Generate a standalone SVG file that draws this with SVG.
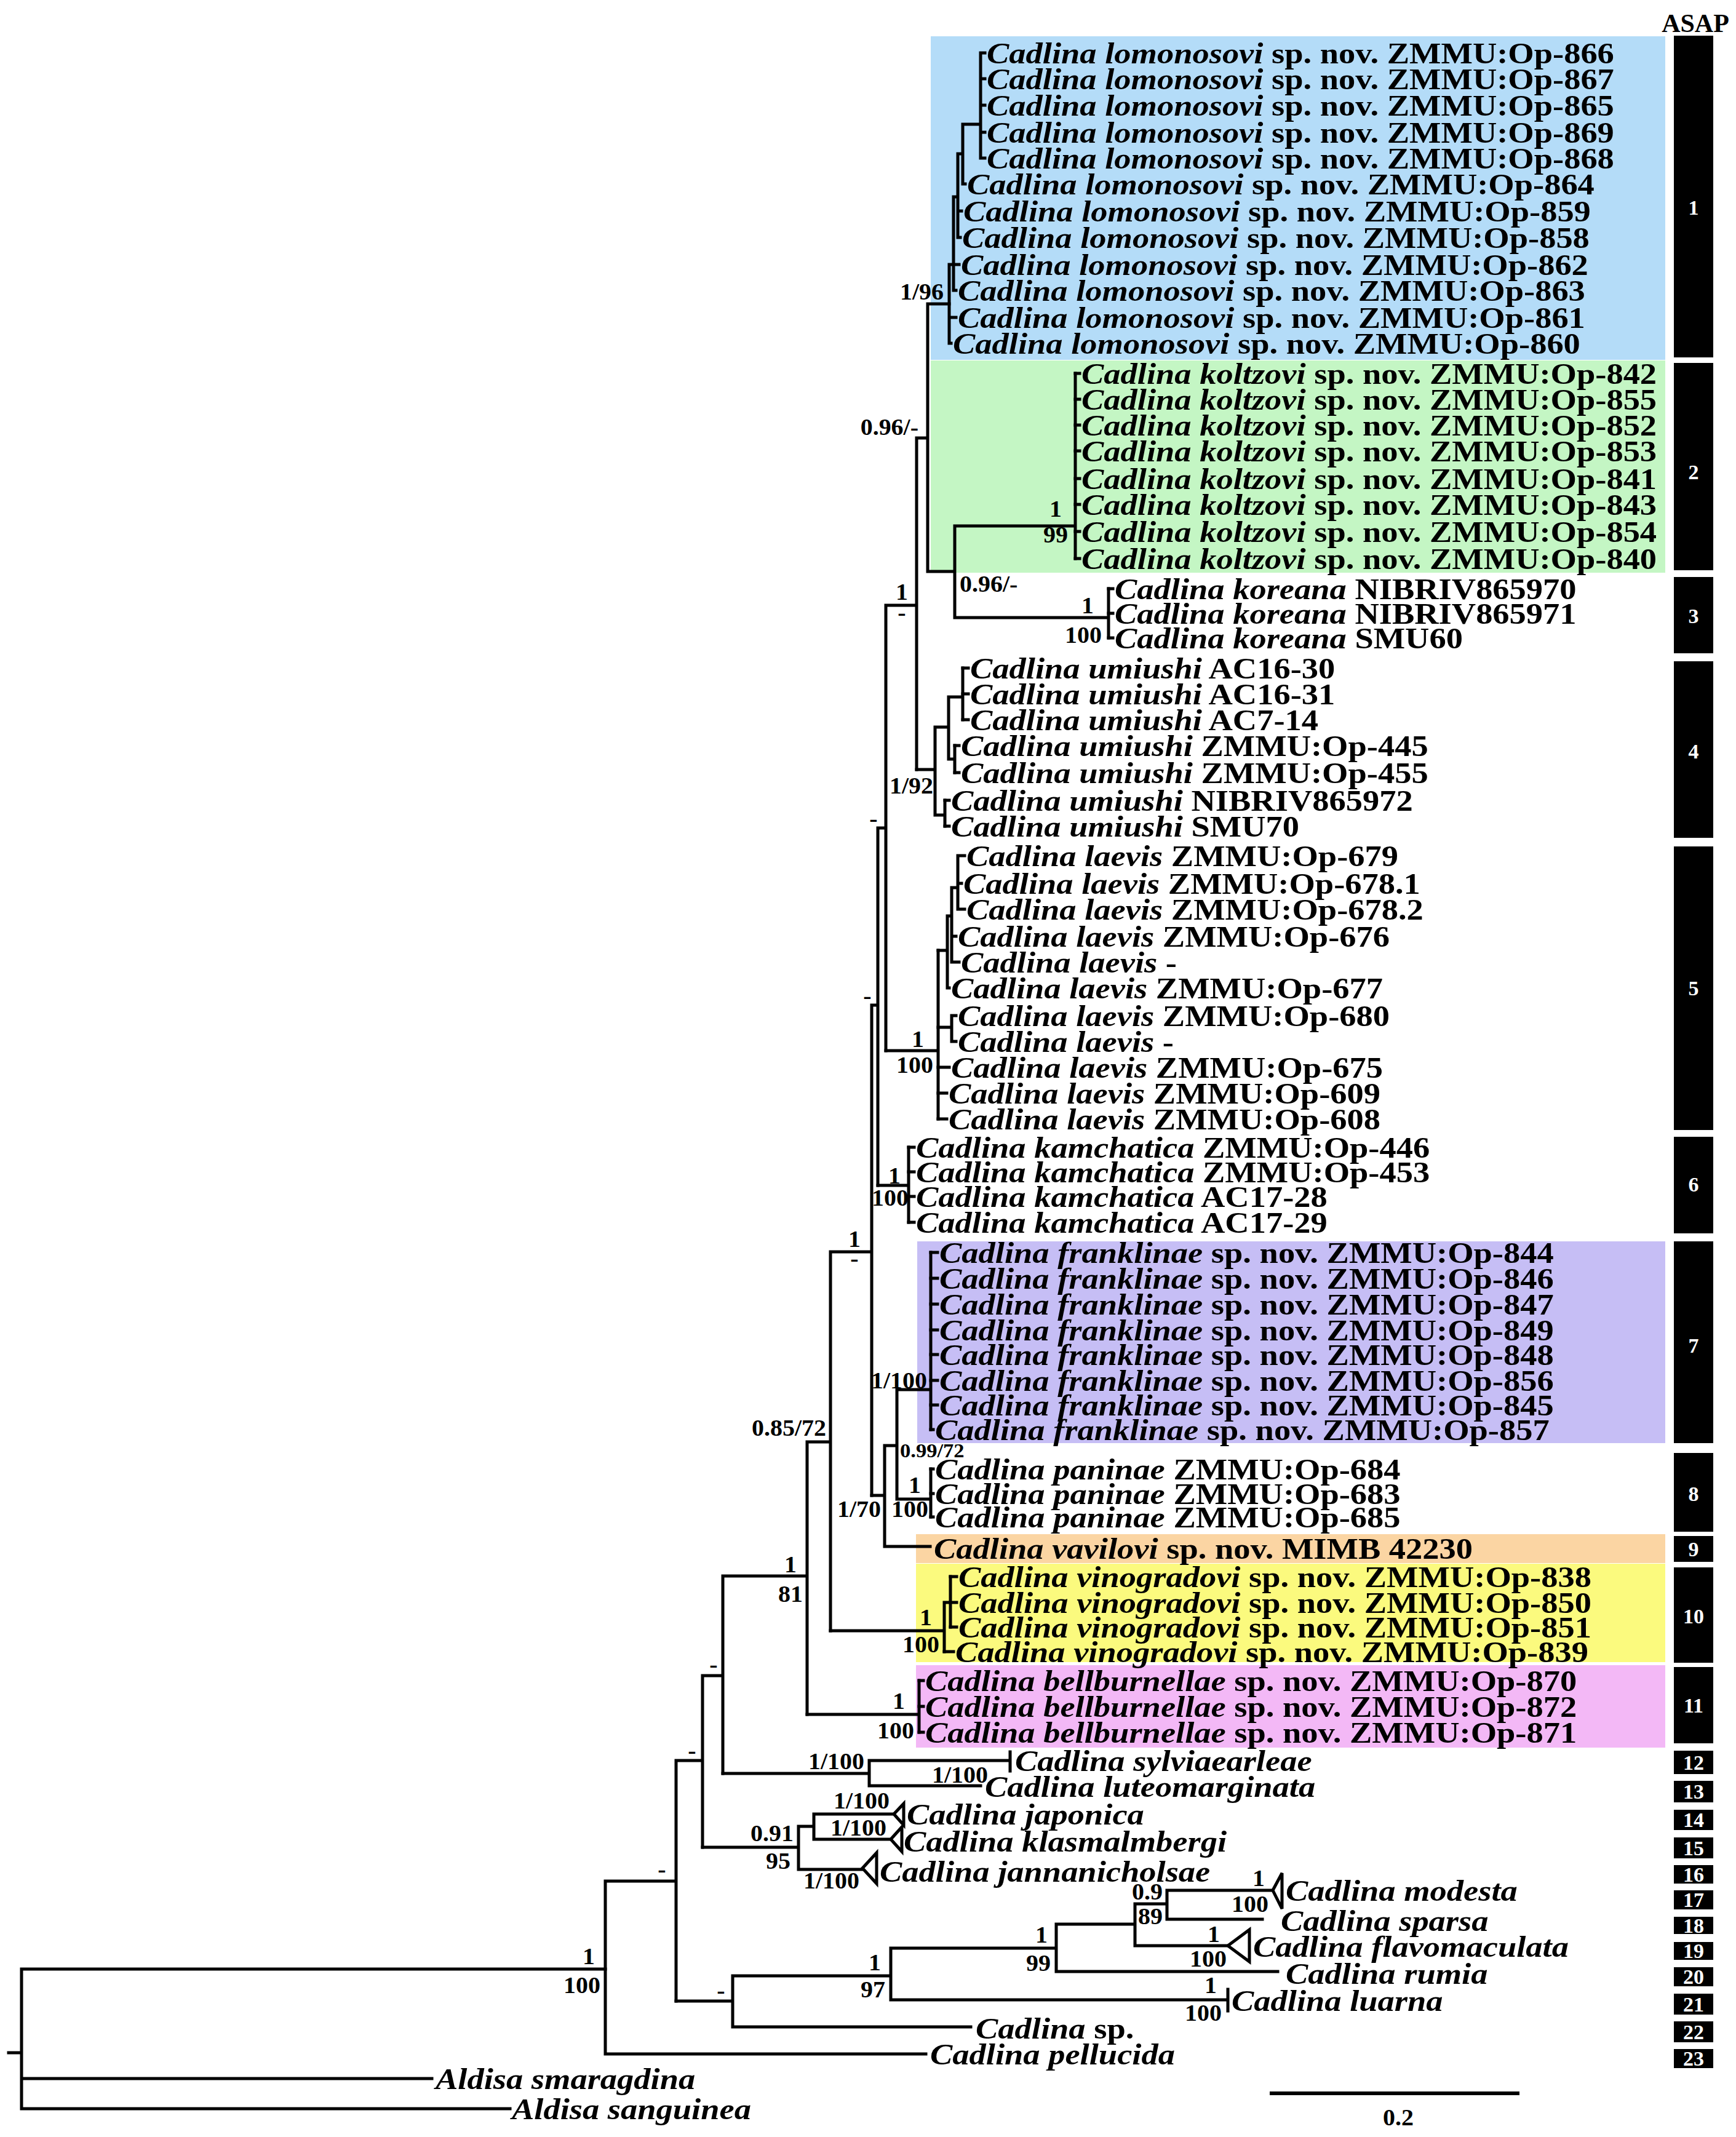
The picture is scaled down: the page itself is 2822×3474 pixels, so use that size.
<svg xmlns="http://www.w3.org/2000/svg" width="2822" height="3474" viewBox="0 0 2822 3474">
<style>
.t{font-family:"Liberation Serif","Times New Roman",serif;font-weight:bold;font-size:48px;fill:#000}
.s{font-family:"Liberation Serif","Times New Roman",serif;font-weight:bold;font-size:37px;fill:#000}
.i{font-style:italic}
.e{text-anchor:end}
.m{text-anchor:middle}
.a{font-family:"Liberation Serif","Times New Roman",serif;font-weight:bold;font-size:34px;fill:#fff;text-anchor:middle}
.br{fill:none;stroke:#000;stroke-width:5;stroke-linecap:square;stroke-linejoin:miter}
.bar{fill:#000}
</style>
<rect width="2822" height="3474" fill="#fff"/>
<g id="clade-highlights">
<rect x="1513" y="59" width="1194" height="526" fill="#b4dcf8"/>
<rect x="1513" y="586" width="1194" height="345" fill="#c4f6c4"/>
<rect x="1491" y="2018" width="1216" height="328" fill="#c6bef5"/>
<rect x="1489" y="2494" width="1218" height="47" fill="#fbd5a3"/>
<rect x="1489" y="2542" width="1218" height="160" fill="#fbfa7e"/>
<rect x="1489" y="2707" width="1218" height="134" fill="#f3b8f6"/>
</g>
<g id="asap">
<text class="t m" transform="translate(2756 52) scale(1.0 1)" style="font-size:42px">ASAP</text>
<rect class="bar" x="2721" y="58" width="64" height="523"/><text class="a" x="2753" y="349">1</text>
<rect class="bar" x="2721" y="590" width="64" height="337"/><text class="a" x="2753" y="779">2</text>
<rect class="bar" x="2721" y="938" width="64" height="124"/><text class="a" x="2753" y="1013">3</text>
<rect class="bar" x="2721" y="1075" width="64" height="287"/><text class="a" x="2753" y="1233">4</text>
<rect class="bar" x="2721" y="1376" width="64" height="461"/><text class="a" x="2753" y="1618">5</text>
<rect class="bar" x="2721" y="1848" width="64" height="157"/><text class="a" x="2753" y="1937">6</text>
<rect class="bar" x="2721" y="2018" width="64" height="328"/><text class="a" x="2753" y="2199">7</text>
<rect class="bar" x="2721" y="2362" width="64" height="128"/><text class="a" x="2753" y="2440">8</text>
<rect class="bar" x="2721" y="2497" width="64" height="42"/><text class="a" x="2753" y="2530">9</text>
<rect class="bar" x="2721" y="2548" width="64" height="155"/><text class="a" x="2753" y="2639">10</text>
<rect class="bar" x="2721" y="2710" width="64" height="124"/><text class="a" x="2753" y="2784">11</text>
<rect class="bar" x="2721" y="2846" width="64" height="38"/><text class="a" x="2753" y="2877">12</text>
<rect class="bar" x="2721" y="2895" width="64" height="35"/><text class="a" x="2753" y="2924">13</text>
<rect class="bar" x="2721" y="2942" width="64" height="33"/><text class="a" x="2753" y="2970">14</text>
<rect class="bar" x="2721" y="2987" width="64" height="34"/><text class="a" x="2753" y="3016">15</text>
<rect class="bar" x="2721" y="3032" width="64" height="30"/><text class="a" x="2753" y="3059">16</text>
<rect class="bar" x="2721" y="3073" width="64" height="31"/><text class="a" x="2753" y="3100">17</text>
<rect class="bar" x="2721" y="3116" width="64" height="28"/><text class="a" x="2753" y="3142">18</text>
<rect class="bar" x="2721" y="3157" width="64" height="29"/><text class="a" x="2753" y="3183">19</text>
<rect class="bar" x="2721" y="3198" width="64" height="31"/><text class="a" x="2753" y="3225">20</text>
<rect class="bar" x="2721" y="3241" width="64" height="34"/><text class="a" x="2753" y="3270">21</text>
<rect class="bar" x="2721" y="3286" width="64" height="34"/><text class="a" x="2753" y="3315">22</text>
<rect class="bar" x="2721" y="3331" width="64" height="31"/><text class="a" x="2753" y="3358">23</text>
</g>
<g id="connectors" class="br">
<path d="M14 3337H35M35 3201V3428M35 3201H984M35 3379H702M35 3428H829"/>
<path d="M984 3058V3339M984 3339H1505M984 3058H1099M1099 2862V3253M1099 2862H1142M1142 2724V3003M1142 2724H1175M1175 2562V2883M1175 2562H1312M1312 2344V2787M1312 2344H1350M1350 2035V2651M1350 2035H1417M1417 1634V2431M1417 1634H1427M1427 1346V1927M1427 1346H1440M1440 984V1708M1440 984H1490M1490 712V1251M1490 712H1508M1508 494V929M1508 494H1543M1508 929H1552M1552 855V1004M1552 855H1748M1748 607V908M1552 1004H1802M1802 957V1037"/>
<path d="M1490 1251H1520M1520 1182V1325M1520 1182H1542M1542 1133V1234M1542 1133H1565M1565 1086V1170M1542 1234H1552M1552 1212V1256M1520 1325H1536M1536 1301V1343"/>
<path d="M1440 1708H1525M1525 1545V1819M1427 1927H1477M1477 1865V1987M1417 2431H1438M1438 2350V2514M1438 2350H1458M1458 2259V2437M1458 2259H1513M1513 2036V2324M1458 2437H1513M1513 2388V2466M1438 2514H1512M1350 2651H1535M1535 2605V2685M1535 2605H1545M1545 2563V2645M1312 2787H1494M1494 2732V2816"/>
<path d="M1175 2883H1413M1413 2862V2903M1413 2862H1642M1642 2848V2879M1413 2903H1594M1142 3003H1298M1298 2969V3039M1298 2969H1323M1323 2949V2990M1323 2949H1453M1323 2990H1448M1298 3039H1402"/>
<path d="M1099 3253H1191M1191 3212V3295M1191 3212H1448M1448 3167V3251M1448 3167H1717M1717 3128V3205M1717 3128H1845M1845 3095V3163M1845 3095H1897M1897 3073V3120M1897 3073H2069M1897 3120H2052M1845 3163H1996M1717 3205H2077M1448 3251H1996M1996 3234V3269M1191 3295H1578"/>
<path d="M1453 2949L1469 2932V2967ZM1448 2990L1466 2970V3010ZM1402 3037L1425 3012V3062ZM2069 3073L2084 3045V3103ZM1996 3163L2031 3137V3189Z"/>
<path d="M1543 430V558M1543 558H1546M1543 516H1554M1543 430H1550M1550 320V472M1550 472H1554M1550 430H1559M1550 320H1557M1557 250V386M1557 386H1561M1557 343H1563M1557 250H1565M1565 202V299M1565 299H1569M1565 202H1594M1594 86V257M1594 86H1601M1594 128H1601M1594 171H1601M1594 215H1601M1594 257H1601"/>
<path d="M1748 607H1755M1748 649H1755M1748 691H1755M1748 733H1755M1748 778H1755M1748 820H1755M1748 864H1755M1748 908H1755M1802 957H1809M1802 997H1809M1802 1037H1809"/>
<path d="M1565 1086H1574M1565 1128H1574M1565 1170H1574M1552 1212H1559M1552 1256H1559M1536 1301H1543M1536 1343H1543"/>
<path d="M1525 1819H1539M1525 1777H1539M1525 1735H1543M1525 1670H1547M1547 1651V1693M1547 1651H1554M1547 1693H1554M1525 1545H1540M1540 1489V1606M1540 1606H1543M1540 1489H1547M1547 1443V1564M1547 1522H1554M1547 1564H1559M1547 1443H1557M1557 1391V1478M1557 1391H1568M1557 1436H1563M1557 1478H1568"/>
<path d="M1477 1865H1486M1477 1905H1486M1477 1945H1486M1477 1987H1486M1513 2036H1524M1513 2078H1524M1513 2120H1524M1513 2162H1524M1513 2202H1524M1513 2244H1524M1513 2284H1524M1513 2324H1517M1513 2388H1517M1513 2428H1517M1513 2466H1517M1545 2563H1555M1545 2605H1555M1545 2645H1555M1535 2685H1550M1494 2732H1501M1494 2774H1501M1494 2816H1501"/>
<path d="M2064 3403H2470" style="stroke-width:6;stroke-linecap:butt"/>
</g>
<g id="scale-label"><text class="s m" transform="translate(2273 3455) scale(1.08 1)">0.2</text></g>
<g id="tips">
<g id="tip-01"><text class="t" transform="translate(1604 103) scale(1.135 1)"><tspan class="i">Cadlina lomonosovi</tspan> sp. nov. ZMMU:Op-866</text></g>
<g id="tip-02"><text class="t" transform="translate(1604 145) scale(1.135 1)"><tspan class="i">Cadlina lomonosovi</tspan> sp. nov. ZMMU:Op-867</text></g>
<g id="tip-03"><text class="t" transform="translate(1604 188) scale(1.135 1)"><tspan class="i">Cadlina lomonosovi</tspan> sp. nov. ZMMU:Op-865</text></g>
<g id="tip-04"><text class="t" transform="translate(1604 232) scale(1.135 1)"><tspan class="i">Cadlina lomonosovi</tspan> sp. nov. ZMMU:Op-869</text></g>
<g id="tip-05"><text class="t" transform="translate(1604 274) scale(1.135 1)"><tspan class="i">Cadlina lomonosovi</tspan> sp. nov. ZMMU:Op-868</text></g>
<g id="tip-06"><text class="t" transform="translate(1572 316) scale(1.135 1)"><tspan class="i">Cadlina lomonosovi</tspan> sp. nov. ZMMU:Op-864</text></g>
<g id="tip-07"><text class="t" transform="translate(1566 360) scale(1.135 1)"><tspan class="i">Cadlina lomonosovi</tspan> sp. nov. ZMMU:Op-859</text></g>
<g id="tip-08"><text class="t" transform="translate(1564 403) scale(1.135 1)"><tspan class="i">Cadlina lomonosovi</tspan> sp. nov. ZMMU:Op-858</text></g>
<g id="tip-09"><text class="t" transform="translate(1562 447) scale(1.135 1)"><tspan class="i">Cadlina lomonosovi</tspan> sp. nov. ZMMU:Op-862</text></g>
<g id="tip-10"><text class="t" transform="translate(1557 489) scale(1.135 1)"><tspan class="i">Cadlina lomonosovi</tspan> sp. nov. ZMMU:Op-863</text></g>
<g id="tip-11"><text class="t" transform="translate(1557 533) scale(1.135 1)"><tspan class="i">Cadlina lomonosovi</tspan> sp. nov. ZMMU:Op-861</text></g>
<g id="tip-12"><text class="t" transform="translate(1549 575) scale(1.135 1)"><tspan class="i">Cadlina lomonosovi</tspan> sp. nov. ZMMU:Op-860</text></g>
<g id="tip-13"><text class="t" transform="translate(1758 624) scale(1.135 1)"><tspan class="i">Cadlina koltzovi</tspan> sp. nov. ZMMU:Op-842</text></g>
<g id="tip-14"><text class="t" transform="translate(1758 666) scale(1.135 1)"><tspan class="i">Cadlina koltzovi</tspan> sp. nov. ZMMU:Op-855</text></g>
<g id="tip-15"><text class="t" transform="translate(1758 708) scale(1.135 1)"><tspan class="i">Cadlina koltzovi</tspan> sp. nov. ZMMU:Op-852</text></g>
<g id="tip-16"><text class="t" transform="translate(1758 750) scale(1.135 1)"><tspan class="i">Cadlina koltzovi</tspan> sp. nov. ZMMU:Op-853</text></g>
<g id="tip-17"><text class="t" transform="translate(1758 795) scale(1.135 1)"><tspan class="i">Cadlina koltzovi</tspan> sp. nov. ZMMU:Op-841</text></g>
<g id="tip-18"><text class="t" transform="translate(1758 837) scale(1.135 1)"><tspan class="i">Cadlina koltzovi</tspan> sp. nov. ZMMU:Op-843</text></g>
<g id="tip-19"><text class="t" transform="translate(1758 881) scale(1.135 1)"><tspan class="i">Cadlina koltzovi</tspan> sp. nov. ZMMU:Op-854</text></g>
<g id="tip-20"><text class="t" transform="translate(1758 925) scale(1.135 1)"><tspan class="i">Cadlina koltzovi</tspan> sp. nov. ZMMU:Op-840</text></g>
<g id="tip-21"><text class="t" transform="translate(1812 974) scale(1.135 1)"><tspan class="i">Cadlina koreana</tspan> NIBRIV865970</text></g>
<g id="tip-22"><text class="t" transform="translate(1812 1014) scale(1.135 1)"><tspan class="i">Cadlina koreana</tspan> NIBRIV865971</text></g>
<g id="tip-23"><text class="t" transform="translate(1812 1054) scale(1.135 1)"><tspan class="i">Cadlina koreana</tspan> SMU60</text></g>
<g id="tip-24"><text class="t" transform="translate(1577 1103) scale(1.135 1)"><tspan class="i">Cadlina umiushi</tspan> AC16-30</text></g>
<g id="tip-25"><text class="t" transform="translate(1577 1145) scale(1.135 1)"><tspan class="i">Cadlina umiushi</tspan> AC16-31</text></g>
<g id="tip-26"><text class="t" transform="translate(1577 1187) scale(1.135 1)"><tspan class="i">Cadlina umiushi</tspan> AC7-14</text></g>
<g id="tip-27"><text class="t" transform="translate(1562 1229) scale(1.135 1)"><tspan class="i">Cadlina umiushi</tspan> ZMMU:Op-445</text></g>
<g id="tip-28"><text class="t" transform="translate(1562 1273) scale(1.135 1)"><tspan class="i">Cadlina umiushi</tspan> ZMMU:Op-455</text></g>
<g id="tip-29"><text class="t" transform="translate(1546 1318) scale(1.135 1)"><tspan class="i">Cadlina umiushi</tspan> NIBRIV865972</text></g>
<g id="tip-30"><text class="t" transform="translate(1546 1360) scale(1.135 1)"><tspan class="i">Cadlina umiushi</tspan> SMU70</text></g>
<g id="tip-31"><text class="t" transform="translate(1571 1408) scale(1.135 1)"><tspan class="i">Cadlina laevis</tspan> ZMMU:Op-679</text></g>
<g id="tip-32"><text class="t" transform="translate(1566 1453) scale(1.135 1)"><tspan class="i">Cadlina laevis</tspan> ZMMU:Op-678.1</text></g>
<g id="tip-33"><text class="t" transform="translate(1571 1495) scale(1.135 1)"><tspan class="i">Cadlina laevis</tspan> ZMMU:Op-678.2</text></g>
<g id="tip-34"><text class="t" transform="translate(1557 1539) scale(1.135 1)"><tspan class="i">Cadlina laevis</tspan> ZMMU:Op-676</text></g>
<g id="tip-35"><text class="t" transform="translate(1562 1581) scale(1.135 1)"><tspan class="i">Cadlina laevis</tspan> -</text></g>
<g id="tip-36"><text class="t" transform="translate(1546 1623) scale(1.135 1)"><tspan class="i">Cadlina laevis</tspan> ZMMU:Op-677</text></g>
<g id="tip-37"><text class="t" transform="translate(1557 1668) scale(1.135 1)"><tspan class="i">Cadlina laevis</tspan> ZMMU:Op-680</text></g>
<g id="tip-38"><text class="t" transform="translate(1557 1710) scale(1.135 1)"><tspan class="i">Cadlina laevis</tspan> -</text></g>
<g id="tip-39"><text class="t" transform="translate(1546 1752) scale(1.135 1)"><tspan class="i">Cadlina laevis</tspan> ZMMU:Op-675</text></g>
<g id="tip-40"><text class="t" transform="translate(1542 1794) scale(1.135 1)"><tspan class="i">Cadlina laevis</tspan> ZMMU:Op-609</text></g>
<g id="tip-41"><text class="t" transform="translate(1542 1836) scale(1.135 1)"><tspan class="i">Cadlina laevis</tspan> ZMMU:Op-608</text></g>
<g id="tip-42"><text class="t" transform="translate(1489 1882) scale(1.135 1)"><tspan class="i">Cadlina kamchatica</tspan> ZMMU:Op-446</text></g>
<g id="tip-43"><text class="t" transform="translate(1489 1922) scale(1.135 1)"><tspan class="i">Cadlina kamchatica</tspan> ZMMU:Op-453</text></g>
<g id="tip-44"><text class="t" transform="translate(1489 1962) scale(1.135 1)"><tspan class="i">Cadlina kamchatica</tspan> AC17-28</text></g>
<g id="tip-45"><text class="t" transform="translate(1489 2004) scale(1.135 1)"><tspan class="i">Cadlina kamchatica</tspan> AC17-29</text></g>
<g id="tip-46"><text class="t" transform="translate(1527 2053) scale(1.135 1)"><tspan class="i">Cadlina franklinae</tspan> sp. nov. ZMMU:Op-844</text></g>
<g id="tip-47"><text class="t" transform="translate(1527 2095) scale(1.135 1)"><tspan class="i">Cadlina franklinae</tspan> sp. nov. ZMMU:Op-846</text></g>
<g id="tip-48"><text class="t" transform="translate(1527 2137) scale(1.135 1)"><tspan class="i">Cadlina franklinae</tspan> sp. nov. ZMMU:Op-847</text></g>
<g id="tip-49"><text class="t" transform="translate(1527 2179) scale(1.135 1)"><tspan class="i">Cadlina franklinae</tspan> sp. nov. ZMMU:Op-849</text></g>
<g id="tip-50"><text class="t" transform="translate(1527 2219) scale(1.135 1)"><tspan class="i">Cadlina franklinae</tspan> sp. nov. ZMMU:Op-848</text></g>
<g id="tip-51"><text class="t" transform="translate(1527 2261) scale(1.135 1)"><tspan class="i">Cadlina franklinae</tspan> sp. nov. ZMMU:Op-856</text></g>
<g id="tip-52"><text class="t" transform="translate(1527 2301) scale(1.135 1)"><tspan class="i">Cadlina franklinae</tspan> sp. nov. ZMMU:Op-845</text></g>
<g id="tip-53"><text class="t" transform="translate(1520 2341) scale(1.135 1)"><tspan class="i">Cadlina franklinae</tspan> sp. nov. ZMMU:Op-857</text></g>
<g id="tip-54"><text class="t" transform="translate(1520 2405) scale(1.135 1)"><tspan class="i">Cadlina paninae</tspan> ZMMU:Op-684</text></g>
<g id="tip-55"><text class="t" transform="translate(1520 2445) scale(1.135 1)"><tspan class="i">Cadlina paninae</tspan> ZMMU:Op-683</text></g>
<g id="tip-56"><text class="t" transform="translate(1520 2483) scale(1.135 1)"><tspan class="i">Cadlina paninae</tspan> ZMMU:Op-685</text></g>
<g id="tip-57"><text class="t" transform="translate(1518 2534) scale(1.135 1)"><tspan class="i">Cadlina vavilovi</tspan> sp. nov. MIMB 42230</text></g>
<g id="tip-58"><text class="t" transform="translate(1558 2580) scale(1.135 1)"><tspan class="i">Cadlina vinogradovi</tspan> sp. nov. ZMMU:Op-838</text></g>
<g id="tip-59"><text class="t" transform="translate(1558 2622) scale(1.135 1)"><tspan class="i">Cadlina vinogradovi</tspan> sp. nov. ZMMU:Op-850</text></g>
<g id="tip-60"><text class="t" transform="translate(1558 2662) scale(1.135 1)"><tspan class="i">Cadlina vinogradovi</tspan> sp. nov. ZMMU:Op-851</text></g>
<g id="tip-61"><text class="t" transform="translate(1553 2702) scale(1.135 1)"><tspan class="i">Cadlina vinogradovi</tspan> sp. nov. ZMMU:Op-839</text></g>
<g id="tip-62"><text class="t" transform="translate(1504 2749) scale(1.135 1)"><tspan class="i">Cadlina bellburnellae</tspan> sp. nov. ZMMU:Op-870</text></g>
<g id="tip-63"><text class="t" transform="translate(1504 2791) scale(1.135 1)"><tspan class="i">Cadlina bellburnellae</tspan> sp. nov. ZMMU:Op-872</text></g>
<g id="tip-64"><text class="t" transform="translate(1504 2833) scale(1.135 1)"><tspan class="i">Cadlina bellburnellae</tspan> sp. nov. ZMMU:Op-871</text></g>
<g id="tip-65"><text class="t i" transform="translate(1650 2879) scale(1.135 1)">Cadlina sylviaearleae</text></g>
<g id="tip-66"><text class="t i" transform="translate(1601 2921) scale(1.135 1)">Cadlina luteomarginata</text></g>
<g id="tip-67"><text class="t i" transform="translate(1474 2966) scale(1.135 1)">Cadlina japonica</text></g>
<g id="tip-68"><text class="t i" transform="translate(1469 3010) scale(1.135 1)">Cadlina klasmalmbergi</text></g>
<g id="tip-69"><text class="t i" transform="translate(1430 3059) scale(1.135 1)">Cadlina jannanicholsae</text></g>
<g id="tip-70"><text class="t i" transform="translate(2090 3090) scale(1.135 1)">Cadlina modesta</text></g>
<g id="tip-71"><text class="t i" transform="translate(2082 3139) scale(1.135 1)">Cadlina sparsa</text></g>
<g id="tip-72"><text class="t i" transform="translate(2037 3181) scale(1.135 1)">Cadlina flavomaculata</text></g>
<g id="tip-73"><text class="t i" transform="translate(2090 3225) scale(1.135 1)">Cadlina rumia</text></g>
<g id="tip-74"><text class="t i" transform="translate(2002 3269) scale(1.135 1)">Cadlina luarna</text></g>
<g id="tip-75"><text class="t" transform="translate(1586 3314) scale(1.135 1)"><tspan class="i">Cadlina</tspan> sp.</text></g>
<g id="tip-76"><text class="t i" transform="translate(1512 3356) scale(1.135 1)">Cadlina pellucida</text></g>
<g id="tip-77"><text class="t i" transform="translate(708 3396) scale(1.135 1)">Aldisa smaragdina</text></g>
<g id="tip-78"><text class="t i" transform="translate(832 3445) scale(1.135 1)">Aldisa sanguinea</text></g>
</g>
<g id="supports">
<g id="n-lomonosovi"><text class="s e" transform="translate(1534 487) scale(1.08 1)">1/96</text></g>
<g id="n-W"><text class="s e" transform="translate(1493 707) scale(1.08 1)">0.96/-</text></g>
<g id="n-X"><text class="s" transform="translate(1560 962) scale(1.08 1)">0.96/-</text></g>
<g id="n-koltzovi"><text class="s m" transform="translate(1716 840) scale(1.08 1)">1</text><text class="s m" transform="translate(1716 882) scale(1.08 1)">99</text></g>
<g id="n-koreana"><text class="s m" transform="translate(1768 997) scale(1.08 1)">1</text><text class="s m" transform="translate(1761 1045) scale(1.08 1)">100</text></g>
<g id="n-V"><text class="s m" transform="translate(1466 975) scale(1.08 1)">1</text><text class="s m" transform="translate(1466 1008) scale(1.08 1)">-</text></g>
<g id="n-umiushi"><text class="s e" transform="translate(1517 1290) scale(1.08 1)">1/92</text></g>
<g id="n-U"><text class="s m" transform="translate(1420 1343) scale(1.08 1)">-</text></g>
<g id="n-T"><text class="s m" transform="translate(1410 1631) scale(1.08 1)">-</text></g>
<g id="n-laevis"><text class="s m" transform="translate(1492 1702) scale(1.08 1)">1</text><text class="s m" transform="translate(1487 1744) scale(1.08 1)">100</text></g>
<g id="n-kamchatica"><text class="s m" transform="translate(1454 1924) scale(1.08 1)">1</text><text class="s m" transform="translate(1447 1960) scale(1.08 1)">100</text></g>
<g id="n-Q"><text class="s m" transform="translate(1389 2027) scale(1.08 1)">1</text><text class="s m" transform="translate(1389 2058) scale(1.08 1)">-</text></g>
<g id="n-P"><text class="s e" transform="translate(1343 2334) scale(1.08 1)">0.85/72</text></g>
<g id="n-franklinae"><text class="s e" transform="translate(1507 2257) scale(1.08 1)">1/100</text></g>
<g id="n-S"><text class="s" transform="translate(1463 2369) scale(1.08 1)" style="font-size:32px">0.99/72</text></g>
<g id="n-R"><text class="s e" transform="translate(1432 2466) scale(1.08 1)">1/70</text></g>
<g id="n-paninae"><text class="s m" transform="translate(1487 2427) scale(1.08 1)">1</text><text class="s m" transform="translate(1479 2466) scale(1.08 1)">100</text></g>
<g id="n-vinogradovi"><text class="s m" transform="translate(1505 2642) scale(1.08 1)">1</text><text class="s m" transform="translate(1497 2686) scale(1.08 1)">100</text></g>
<g id="n-bellburnellae"><text class="s m" transform="translate(1461 2778) scale(1.08 1)">1</text><text class="s m" transform="translate(1456 2826) scale(1.08 1)">100</text></g>
<g id="n-D"><text class="s m" transform="translate(1285 2556) scale(1.08 1)">1</text><text class="s m" transform="translate(1285 2604) scale(1.08 1)">81</text></g>
<g id="n-C"><text class="s m" transform="translate(1160 2718) scale(1.08 1)">-</text></g>
<g id="n-B"><text class="s m" transform="translate(1125 2858) scale(1.08 1)">-</text></g>
<g id="n-A"><text class="s m" transform="translate(1076 3051) scale(1.08 1)">-</text></g>
<g id="n-E"><text class="s e" transform="translate(1405 2876) scale(1.08 1)">1/100</text></g>
<g id="n-luteomarginata"><text class="s" transform="translate(1515 2898) scale(1.08 1)">1/100</text></g>
<g id="n-japonica"><text class="s e" transform="translate(1446 2940) scale(1.08 1)">1/100</text></g>
<g id="n-klasmalmbergi"><text class="s e" transform="translate(1441 2984) scale(1.08 1)">1/100</text></g>
<g id="n-F"><text class="s e" transform="translate(1290 2993) scale(1.08 1)">0.91</text><text class="s e" transform="translate(1285 3038) scale(1.08 1)">95</text></g>
<g id="n-jannanicholsae"><text class="s e" transform="translate(1397 3070) scale(1.08 1)">1/100</text></g>
<g id="n-H"><text class="s m" transform="translate(1172 3248) scale(1.08 1)">-</text></g>
<g id="n-I"><text class="s m" transform="translate(1422 3203) scale(1.08 1)">1</text><text class="s m" transform="translate(1419 3247) scale(1.08 1)">97</text></g>
<g id="n-ingroup"><text class="s m" transform="translate(957 3193) scale(1.08 1)">1</text><text class="s m" transform="translate(946 3240) scale(1.08 1)">100</text></g>
<g id="n-J"><text class="s m" transform="translate(1693 3158) scale(1.08 1)">1</text><text class="s m" transform="translate(1688 3204) scale(1.08 1)">99</text></g>
<g id="n-L"><text class="s e" transform="translate(1890 3088) scale(1.08 1)">0.9</text><text class="s e" transform="translate(1890 3128) scale(1.08 1)">89</text></g>
<g id="n-modesta"><text class="s m" transform="translate(2046 3066) scale(1.08 1)">1</text><text class="s m" transform="translate(2032 3108) scale(1.08 1)">100</text></g>
<g id="n-flavomaculata"><text class="s m" transform="translate(1973 3157) scale(1.08 1)">1</text><text class="s m" transform="translate(1964 3197) scale(1.08 1)">100</text></g>
<g id="n-luarna"><text class="s m" transform="translate(1968 3240) scale(1.08 1)">1</text><text class="s m" transform="translate(1956 3285) scale(1.08 1)">100</text></g>
</g>
</svg>
